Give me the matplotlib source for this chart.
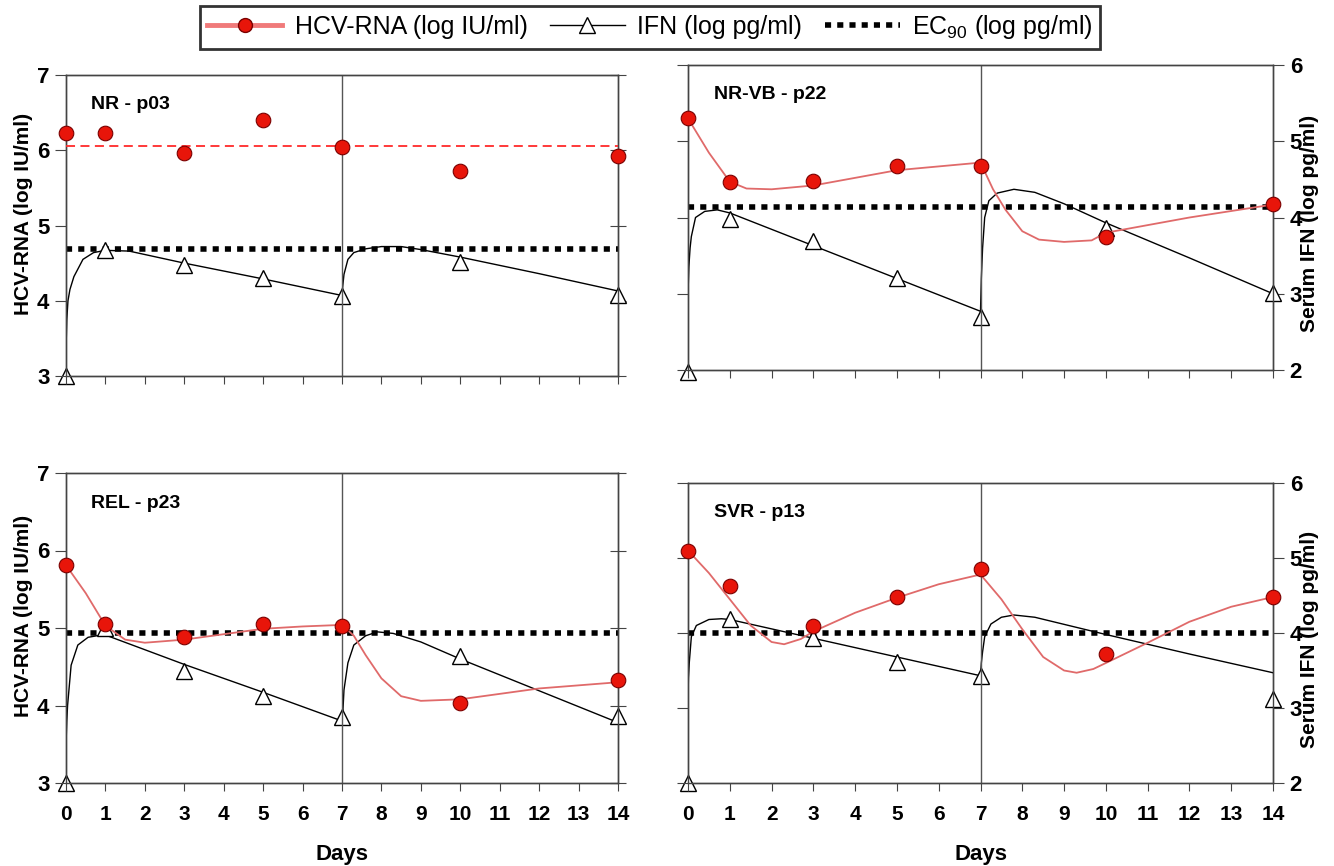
import matplotlib
matplotlib.use("Agg")
import matplotlib.pyplot as plt
from matplotlib.lines import Line2D

plt.rcParams['font.family'] = ['Liberation Sans', 'DejaVu Sans']
plt.rcParams['mathtext.fontset'] = 'custom'
plt.rcParams['mathtext.rm'] = 'Liberation Sans'
plt.rcParams['mathtext.default'] = 'regular'

# ---------------- data ----------------
days = [0, 1, 3, 5, 7, 10, 14]
day_ticks = list(range(0, 15))

# NR - p03 (HCV in log IU/ml, IFN in log pg/ml)
p03_hcv = [6.23, 6.23, 5.97, 6.40, 6.04, 5.73, 5.92]
p03_ifn = [2.00, 3.68, 3.48, 3.30, 3.06, 3.52, 3.07]
p03_hcv_level = 6.05
p03_ec90 = 3.69
p03_fit_ifn_t = [0, 0.02, 0.05, 0.1, 0.2, 0.43, 0.7, 1.0, 1.6, 3, 5, 7, 7.02, 7.05, 7.15, 7.3, 7.6, 8.0, 8.5, 9, 10, 12, 14]
p03_fit_ifn_v = [2.35, 2.75, 3.00, 3.15, 3.32, 3.55, 3.64, 3.67, 3.66, 3.50, 3.29, 3.07, 3.20, 3.35, 3.55, 3.64, 3.69, 3.72, 3.72, 3.68, 3.58, 3.36, 3.13]

# NR-VB - p22
p22_hcv = [6.30, 5.46, 5.48, 5.67, 5.67, 4.75, 5.18]
p22_ifn = [1.98, 3.98, 3.69, 3.21, 2.70, 3.86, 3.01]
p22_ec90 = 4.14
p22_fit_hcv_t = [0, 0.5, 1, 1.4, 2, 3, 5, 7, 7.3, 7.6, 8.0, 8.4, 9, 9.66, 10, 12, 14]
p22_fit_hcv_v = [6.30, 5.85, 5.47, 5.38, 5.37, 5.42, 5.62, 5.72, 5.37, 5.10, 4.82, 4.71, 4.68, 4.70, 4.80, 5.00, 5.17]
p22_fit_ifn_t = [0, 0.02, 0.05, 0.08, 0.18, 0.4, 0.7, 1.0, 3, 5, 7, 7.02, 7.05, 7.1, 7.2, 7.4, 7.8, 8.3, 9, 10, 12, 14]
p22_fit_ifn_v = [3.00, 3.35, 3.60, 3.75, 4.00, 4.08, 4.10, 4.06, 3.63, 3.20, 2.77, 3.20, 3.60, 4.00, 4.22, 4.32, 4.37, 4.33, 4.18, 3.93, 3.47, 3.00]

# REL - p23
p23_hcv = [5.81, 5.05, 4.88, 5.05, 5.02, 4.03, 4.33]
p23_ifn = [2.00, 4.00, 3.45, 3.12, 2.85, 3.64, 2.87]
p23_ec90 = 3.94
p23_fit_hcv_t = [0, 0.5, 1, 1.5, 2, 3, 4, 5, 6, 7, 7.3, 7.6, 8, 8.5, 9, 10, 12, 14]
p23_fit_hcv_v = [5.81, 5.45, 5.03, 4.85, 4.81, 4.85, 4.92, 4.99, 5.02, 5.04, 4.90, 4.65, 4.35, 4.12, 4.06, 4.08, 4.22, 4.30]
p23_fit_ifn_t = [0, 0.02, 0.04, 0.13, 0.3, 0.56, 0.9, 1.05, 3, 5, 7, 7.02, 7.05, 7.15, 7.3, 7.6, 7.9, 8.3, 9, 10, 12, 14]
p23_fit_ifn_v = [2.50, 2.80, 3.00, 3.52, 3.78, 3.88, 3.91, 3.90, 3.53, 3.17, 2.80, 2.90, 3.20, 3.55, 3.78, 3.90, 3.95, 3.93, 3.82, 3.60, 3.19, 2.78]

# SVR - p13
p13_hcv = [6.10, 5.63, 5.10, 5.48, 5.85, 4.72, 5.48]
p13_days_ifn = [0, 1, 3, 5, 7, 14]
p13_ifn = [2.00, 4.19, 3.94, 3.61, 3.43, 3.12]
p13_ec90 = 4.00
p13_fit_hcv_t = [0, 0.5, 1, 1.5, 2, 2.3, 2.7, 3, 4, 5, 6, 7, 7.5, 8, 8.5, 9, 9.3, 9.7, 10, 11, 12, 13, 14]
p13_fit_hcv_v = [6.10, 5.80, 5.45, 5.10, 4.88, 4.85, 4.92, 5.02, 5.27, 5.47, 5.65, 5.78, 5.45, 5.05, 4.68, 4.50, 4.47, 4.52, 4.60, 4.87, 5.15, 5.35, 5.48]
p13_fit_ifn_t = [0, 0.01, 0.03, 0.08, 0.2, 0.5, 0.8, 1.0, 3, 5, 7, 7.02, 7.05, 7.1, 7.25, 7.5, 7.8, 8.3, 10, 12, 14]
p13_fit_ifn_v = [3.10, 3.40, 3.60, 3.95, 4.10, 4.18, 4.19, 4.18, 3.93, 3.68, 3.43, 3.60, 3.75, 3.95, 4.12, 4.21, 4.24, 4.21, 3.98, 3.72, 3.47]

titles = ["NR - p03", "NR-VB - p22", "REL - p23", "SVR - p13"]

# ---------------- style ----------------
RED_FACE = '#e8150a'
RED_EDGE = '#7a0000'
RED_LINE = '#e06a6a'
SPINE = '#444444'

fig = plt.figure(figsize=(13.34, 8.66), dpi=100)
W, H = 1334.0, 866.0

def rect(l, r, t, b):
    return [l / W, 1 - b / H, (r - l) / W, (b - t) / H]

positions = [rect(66, 618, 75, 376), rect(688, 1273, 65, 370),
             rect(66, 618, 473, 783), rect(688, 1273, 483, 783)]

panels = [
    dict(hcv=p03_hcv, ifn_days=days, ifn=p03_ifn, ec90=p03_ec90, level=p03_hcv_level,
         fit_hcv=None, fit_ifn=(p03_fit_ifn_t, p03_fit_ifn_v)),
    dict(hcv=p22_hcv, ifn_days=days, ifn=p22_ifn, ec90=p22_ec90, level=None,
         fit_hcv=(p22_fit_hcv_t, p22_fit_hcv_v), fit_ifn=(p22_fit_ifn_t, p22_fit_ifn_v)),
    dict(hcv=p23_hcv, ifn_days=days, ifn=p23_ifn, ec90=p23_ec90, level=None,
         fit_hcv=(p23_fit_hcv_t, p23_fit_hcv_v), fit_ifn=(p23_fit_ifn_t, p23_fit_ifn_v)),
    dict(hcv=p13_hcv, ifn_days=p13_days_ifn, ifn=p13_ifn, ec90=p13_ec90, level=None,
         fit_hcv=(p13_fit_hcv_t, p13_fit_hcv_v), fit_ifn=(p13_fit_ifn_t, p13_fit_ifn_v)),
]

for i, (pos, pan, title) in enumerate(zip(positions, panels, titles)):
    left_col = (i % 2 == 0)
    bottom_row = (i >= 2)
    ax = fig.add_axes(pos)
    ax2 = ax.twinx()
    ax.set_xlim(0, 14)
    ax.set_ylim(3, 7)
    ax2.set_ylim(2, 6)
    ax.set_zorder(ax2.get_zorder() + 1)
    ax.patch.set_visible(False)

    for a in (ax, ax2):
        for s in a.spines.values():
            s.set_color(SPINE)
            s.set_linewidth(1.0)

    ax.axvline(7, color='#555555', lw=1.0, zorder=1)

    # IFN (right scale)
    ax2.plot(pan['fit_ifn'][0], pan['fit_ifn'][1], color='black', lw=1.0, zorder=3)
    ax2.axhline(pan['ec90'], color='black', lw=4.0, ls=(0, (1.1, 1.1)), zorder=2)
    ax2.plot(pan['ifn_days'], pan['ifn'], ls='none', marker='^', ms=11,
             mfc='white', mec='black', mew=1.0, clip_on=False, zorder=4)

    # HCV (left scale)
    if pan['level'] is not None:
        ax.axhline(pan['level'], color='#ff2a2a', lw=1.3, ls=(0, (5, 3)), zorder=3)
    if pan['fit_hcv'] is not None:
        ax.plot(pan['fit_hcv'][0], pan['fit_hcv'][1], color=RED_LINE, lw=1.3, zorder=3)
    ax.plot(days, pan['hcv'], ls='none', marker='o', ms=10.5, mfc=RED_FACE,
            mec=RED_EDGE, mew=0.8, clip_on=False, zorder=5)

    ax.set_xticks(day_ticks)
    ax.set_yticks([3, 4, 5, 6, 7])
    ax2.set_yticks([2, 3, 4, 5, 6])
    ax.tick_params(axis='x', direction='out', length=6, color=SPINE,
                   labelbottom=bottom_row, labelsize=15, pad=10)
    for lab in ax.get_xticklabels():
        lab.set_fontweight('bold')
    if left_col:
        ax.tick_params(axis='y', direction='out', length=8, color=SPINE,
                       labelsize=16, pad=4)
        for lab in ax.get_yticklabels():
            lab.set_fontweight('bold')
        ax2.tick_params(axis='y', direction='inout', length=12, color=SPINE,
                        labelright=False)
        ax.set_ylabel("HCV-RNA (log IU/ml)", fontsize=15, fontweight='bold')
        ax.yaxis.set_label_coords(-0.06, 0.54)
    else:
        ax.tick_params(axis='y', direction='out', length=8, color=SPINE,
                       labelleft=False)
        ax2.tick_params(axis='y', direction='out', length=8, color=SPINE,
                        labelsize=16, pad=4)
        for lab in ax2.get_yticklabels():
            lab.set_fontweight('bold')
        ax2.set_ylabel("Serum IFN (log pg/ml)", fontsize=15, fontweight='bold')
        ax2.yaxis.set_label_coords(1.046, 0.48)
    if bottom_row:
        ax.set_xlabel("Days", fontsize=16, fontweight='bold', labelpad=14)

    ax.text(0.045, 0.93, title, transform=ax.transAxes, fontsize=14,
            fontweight='bold', va='top', ha='left')

handles = [
    Line2D([], [], color='#f07a7a', lw=3.5, marker='o', ms=10, mfc=RED_FACE, mec=RED_EDGE),
    Line2D([], [], color='black', lw=1.0, marker='^', ms=11, mfc='white', mec='black'),
    Line2D([], [], color='black', lw=4.0, ls=(0, (1.1, 1.1))),
]
labels = ["HCV-RNA (log IU/ml)", "IFN (log pg/ml)", "EC$_{90}$ (log pg/ml)"]
leg = fig.legend(handles, labels, loc='center', bbox_to_anchor=(650 / W, 1 - 27 / H),
                 ncol=3, fontsize=18, frameon=True, fancybox=False,
                 handlelength=3.0, columnspacing=0.9, handletextpad=0.5,
                 borderpad=0.3)
leg.get_frame().set_edgecolor('black')
leg.get_frame().set_linewidth(2.0)

fig.savefig("out.png", dpi=100)
